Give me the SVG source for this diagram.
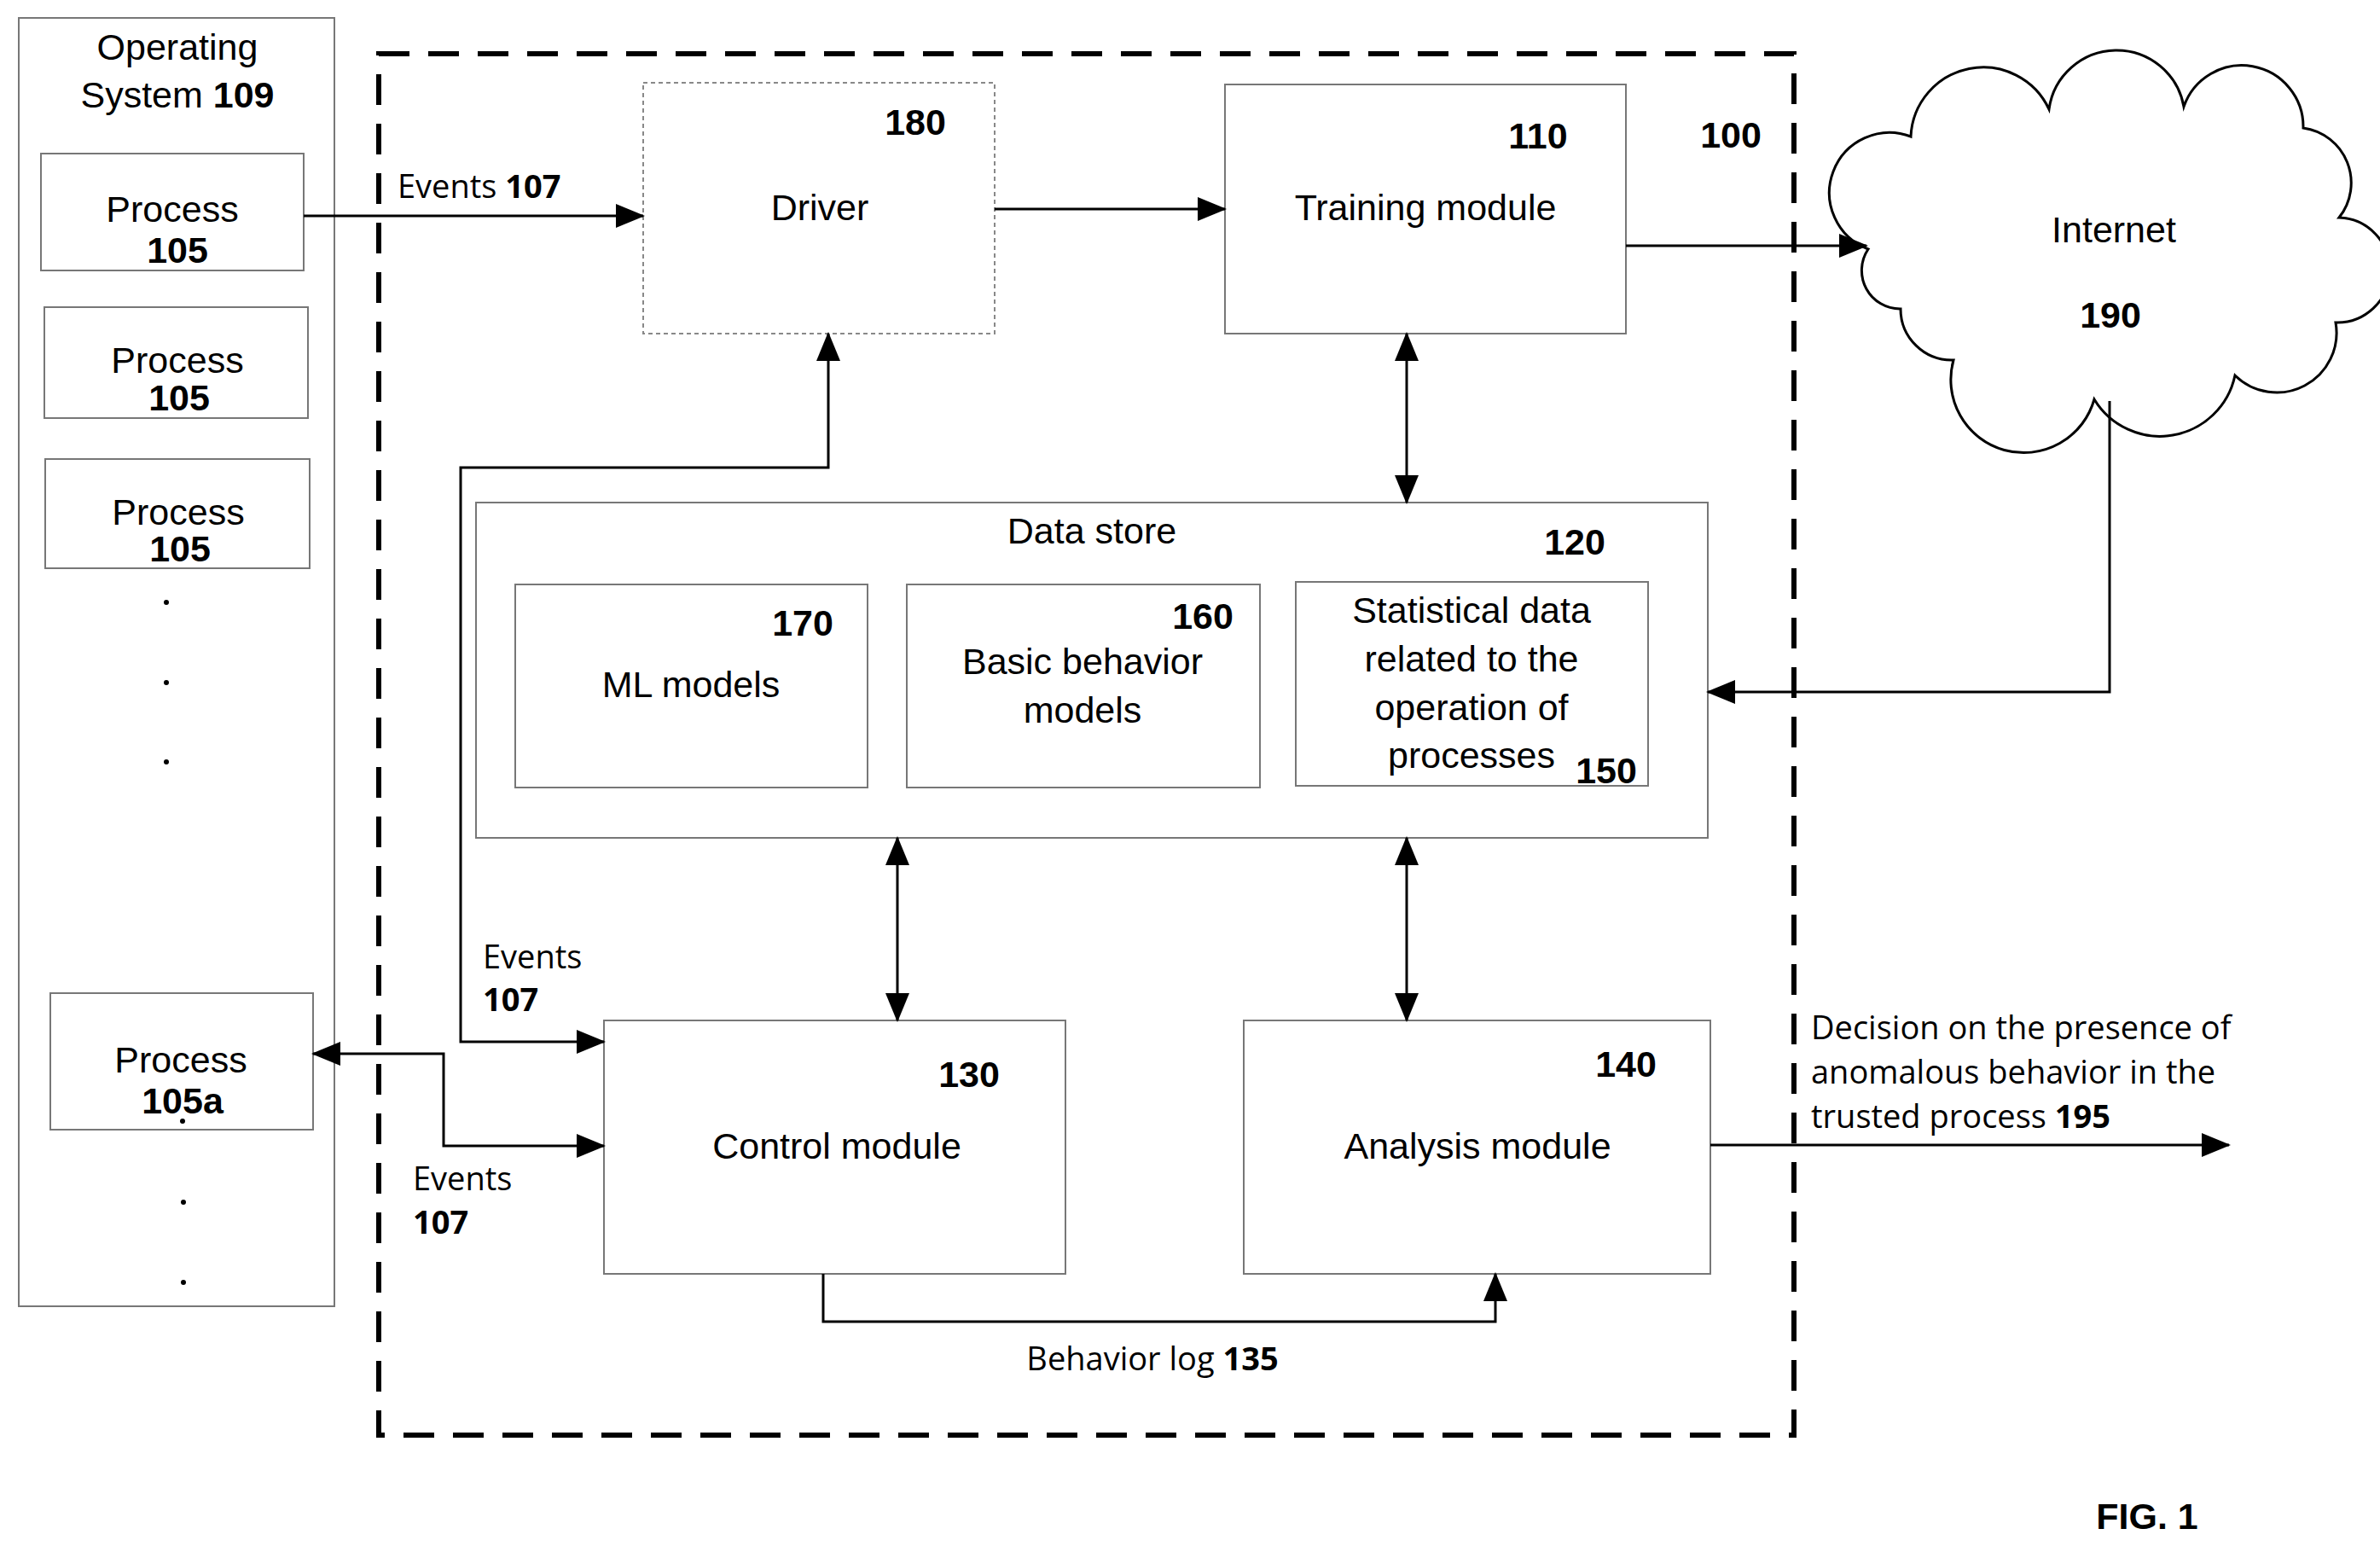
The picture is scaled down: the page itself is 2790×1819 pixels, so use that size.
<svg xmlns="http://www.w3.org/2000/svg" width="2790" height="1819" viewBox="0 0 2790 1819">
<style>
.t{font-family:"Liberation Sans",Arial,sans-serif;font-size:43px;fill:#000}
.b{font-weight:bold}
.c{font-family:"Open Sans","Liberation Sans",sans-serif;font-size:38px;fill:#000}
.box{fill:#fff;stroke:#777;stroke-width:2}
.ln{fill:none;stroke:#000;stroke-width:3}
</style>
<defs>
<marker id="a" markerUnits="userSpaceOnUse" markerWidth="34" markerHeight="28" refX="32" refY="14" orient="auto-start-reverse"><path d="M0,0 L34,14 L0,28 Z" fill="#000"/></marker>
</defs>
<rect width="2790" height="1819" fill="#fff"/>
<g id="os">
<rect class="box" x="22" y="21" width="370" height="1510"/>
<text class="t" x="208" y="70" text-anchor="middle">Operating</text>
<text class="t" x="208" y="126" text-anchor="middle">System <tspan class="b">109</tspan></text>
<circle cx="195" cy="706" r="3"/><circle cx="195" cy="800" r="3"/><circle cx="195" cy="893" r="3"/>
<circle cx="215" cy="1409" r="3"/><circle cx="215" cy="1503" r="3"/>
</g>
<g id="p1"><rect class="box" x="48" y="180" width="308" height="137"/>
<text class="t" x="202" y="260" text-anchor="middle">Process</text><text class="t b" x="208" y="308" text-anchor="middle">105</text></g>
<g id="p2"><rect class="box" x="52" y="360" width="309" height="130"/>
<text class="t" x="208" y="437" text-anchor="middle">Process</text><text class="t b" x="210" y="481" text-anchor="middle">105</text></g>
<g id="p3"><rect class="box" x="53" y="538" width="310" height="128"/>
<text class="t" x="209" y="615" text-anchor="middle">Process</text><text class="t b" x="211" y="658" text-anchor="middle">105</text></g>
<g id="p105a"><rect class="box" x="59" y="1164" width="308" height="160"/>
<text class="t" x="212" y="1257" text-anchor="middle">Process</text><text class="t b" x="214" y="1305" text-anchor="middle">105a</text><circle cx="214" cy="1314" r="3"/></g>
<g id="sys100">
<rect x="444" y="63" width="1659" height="1619" fill="none" stroke="#000" stroke-width="6" stroke-dasharray="36,22"/>
<text class="t b" x="2029" y="173" text-anchor="middle">100</text>
</g>
<g id="driver"><rect x="754" y="97" width="412" height="294" fill="#fff" stroke="#888" stroke-width="2" stroke-dasharray="5,4"/>
<text class="t b" x="1073" y="158" text-anchor="middle">180</text><text class="t" x="961" y="258" text-anchor="middle">Driver</text></g>
<g id="training"><rect class="box" x="1436" y="99" width="470" height="292"/>
<text class="t b" x="1803" y="174" text-anchor="middle">110</text><text class="t" x="1671" y="258" text-anchor="middle">Training module</text></g>
<g id="internet">
<path d="M2190,292 A60,60 0 0 1 2240,160 A85,85 0 0 1 2402,128 A80,80 0 0 1 2560,125 A72,72 0 0 1 2700,150 A65,65 0 0 1 2742,255 A60,60 0 0 1 2738,378 A70,70 0 0 1 2620,440 A90,90 0 0 1 2455,468 A80,80 0 0 1 2290,422 A60,60 0 0 1 2228,362 A45,45 0 0 1 2190,292 Z" fill="#fff" stroke="#000" stroke-width="3"/>
<text class="t" x="2478" y="284" text-anchor="middle">Internet</text><text class="t b" x="2474" y="384" text-anchor="middle">190</text></g>
<g id="datastore"><rect class="box" x="558" y="589" width="1444" height="393"/>
<text class="t" x="1280" y="637" text-anchor="middle">Data store</text><text class="t b" x="1846" y="650" text-anchor="middle">120</text></g>
<g id="ml"><rect class="box" x="604" y="685" width="413" height="238"/>
<text class="t b" x="941" y="745" text-anchor="middle">170</text><text class="t" x="810" y="817" text-anchor="middle">ML models</text></g>
<g id="basic"><rect class="box" x="1063" y="685" width="414" height="238"/>
<text class="t b" x="1410" y="737" text-anchor="middle">160</text><text class="t" x="1269" y="790" text-anchor="middle">Basic behavior</text><text class="t" x="1269" y="847" text-anchor="middle">models</text></g>
<g id="stat"><rect class="box" x="1519" y="682" width="413" height="239"/>
<text class="t" x="1725" y="730" text-anchor="middle">Statistical data</text>
<text class="t" x="1725" y="787" text-anchor="middle">related to the</text>
<text class="t" x="1725" y="844" text-anchor="middle">operation of</text>
<text class="t" x="1725" y="900" text-anchor="middle">processes</text>
<text class="t b" x="1883" y="918" text-anchor="middle">150</text></g>
<g id="control"><rect class="box" x="708" y="1196" width="541" height="297"/>
<text class="t b" x="1136" y="1274" text-anchor="middle">130</text><text class="t" x="981" y="1358" text-anchor="middle">Control module</text></g>
<g id="analysis"><rect class="box" x="1458" y="1196" width="547" height="297"/>
<text class="t b" x="1906" y="1262" text-anchor="middle">140</text><text class="t" x="1732" y="1358" text-anchor="middle">Analysis module</text></g>
<g id="connectors">
<path class="ln" d="M356,253 L754,253" marker-end="url(#a)"/>
<text class="c" x="466" y="232">Events <tspan font-weight="bold">107</tspan></text>
<path class="ln" d="M1166,245 L1436,245" marker-end="url(#a)"/>
<path class="ln" d="M1906,288 L2188,288" marker-end="url(#a)"/>
<path class="ln" d="M2473,470 L2473,811 L2002,811" marker-end="url(#a)"/>
<path class="ln" d="M1649,391 L1649,589" marker-start="url(#a)" marker-end="url(#a)"/>
<path class="ln" d="M971,391 L971,548 L540,548 L540,1221 L708,1221" marker-start="url(#a)" marker-end="url(#a)"/>
<text class="c" x="566" y="1135">Events</text><text class="c" font-weight="bold" x="566" y="1185">107</text>
<path class="ln" d="M367,1235 L520,1235 L520,1343 L708,1343" marker-start="url(#a)" marker-end="url(#a)"/>
<text class="c" x="484" y="1395">Events</text><text class="c" font-weight="bold" x="484" y="1446">107</text>
<path class="ln" d="M1052,982 L1052,1196" marker-start="url(#a)" marker-end="url(#a)"/>
<path class="ln" d="M1649,982 L1649,1196" marker-start="url(#a)" marker-end="url(#a)"/>
<path class="ln" d="M965,1493 L965,1549 L1753,1549 L1753,1493" marker-end="url(#a)"/>
<text class="c" x="1351" y="1606" text-anchor="middle">Behavior log <tspan font-weight="bold">135</tspan></text>
<path class="ln" d="M2005,1342 L2613,1342" marker-end="url(#a)"/>
<text class="c" x="2123" y="1218">Decision on the presence of</text>
<text class="c" x="2123" y="1270">anomalous behavior in the</text>
<text class="c" x="2123" y="1322">trusted process <tspan font-weight="bold">195</tspan></text>
</g>
<text class="t b" x="2517" y="1792" text-anchor="middle">FIG. 1</text>
</svg>
